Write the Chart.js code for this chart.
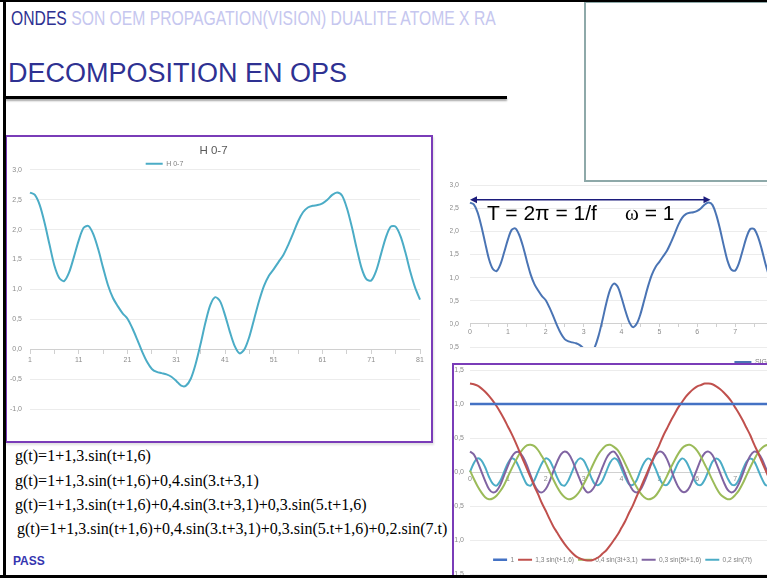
<!DOCTYPE html>
<html>
<head>
<meta charset="utf-8">
<title>DECOMPOSITION EN OPS</title>
<script src="https://cdn.jsdelivr.net/npm/chart.js@4.4.1/dist/chart.umd.min.js"></script>
<style>
  body { margin: 0; background: #fff; }
  #slide { position: relative; width: 767px; height: 578px; overflow: hidden; background: #fff;
           font-family: "Liberation Sans", Arial, sans-serif; }
  #slide div { position: absolute; }
  .frame { box-sizing: border-box; border: 2px solid #7a3cb8; background: #fff; }
  .formula { font-family: "Liberation Serif", "Times New Roman", serif; font-size: 16px; line-height: 16px;
             color: #000; white-space: nowrap; }
  .black { background: #000; }
</style>
</head>
<body>
<div id="slide">

  <div style="left:11px;top:8px;font-size:20px;line-height:20px;white-space:nowrap;color:#c6c7ef;transform:scaleX(0.785);transform-origin:0 0"><span style="color:#2e3192">ONDES</span> SON OEM PROPAGATION(VISION) DUALITE ATOME X RA</div>
  <div style="left:8px;top:60px;font-size:27px;line-height:27px;color:#2e3192;white-space:nowrap">DECOMPOSITION EN OPS</div>
  <div class="black" style="left:5px;top:96px;width:502px;height:3px;box-shadow:0 2px 2px rgba(0,0,0,0.35)"></div>

  <!-- graphique principal -->
  <div class="frame" style="left:5px;top:135px;width:428px;height:308px;box-shadow:1px 2px 2px rgba(0,0,0,0.12)"></div>
  <div style="left:7px;top:137px;width:424px;height:304px"><canvas id="grafico_h07"></canvas></div>

  <!-- signal, en haut a droite -->
  <div style="left:450px;top:176px;width:317px;height:187px;overflow:hidden">
    <div style="left:-10px;top:0;width:640px;height:200px"><canvas id="grafico_signal"></canvas></div>
  </div>
  <div style="left:487px;top:202px;font-size:21px;line-height:21px;white-space:nowrap">T = 2&pi; = 1/f</div>
  <div style="left:625px;top:202px;font-size:21px;line-height:21px;white-space:nowrap"><span style="font-family:'Liberation Serif',serif">&omega;</span> = 1</div>

  <!-- composantes, en bas a droite -->
  <div class="frame" style="left:452px;top:363px;width:340px;height:240px;overflow:hidden">
    <div style="left:0;top:0;width:330px;height:215px"><canvas id="grafico_ops"></canvas></div>
  </div>

  <div style="left:584px;top:1px;width:200px;height:181px;box-sizing:border-box;border:2px solid #8ea9a9"></div>

  <div class="formula" style="left:15px;top:448px">g(t)=1+1,3.sin(t+1,6)</div>
  <div class="formula" style="left:15px;top:473px">g(t)=1+1,3.sin(t+1,6)+0,4.sin(3.t+3,1)</div>
  <div class="formula" style="left:15px;top:497px">g(t)=1+1,3.sin(t+1,6)+0,4.sin(3.t+3,1)+0,3.sin(5.t+1,6)</div>
  <div class="formula" style="left:17px;top:521px">g(t)=1+1,3.sin(t+1,6)+0,4.sin(3.t+3,1)+0,3.sin(5.t+1,6)+0,2.sin(7.t)</div>

  <div style="left:13px;top:555px;font-size:12px;line-height:12px;font-weight:bold;color:#3535b0">PASS</div>

  <div class="black" style="left:0;top:0;width:767px;height:2px"></div>
  <div class="black" style="left:3px;top:0;width:3px;height:578px"></div>
  <div class="black" style="left:0;top:575px;width:767px;height:3px"></div>
</div>

<script>
// valeurs, t = 0 .. 8 par pas de 0,1 (81 points)
const pointNo = Array.from({ length: 81 }, (_, i) => String(i + 1))
const tValues = Array.from({ length: 81 }, (_, i) => (i / 10).toFixed(1))

// somme des harmoniques 0 a 7
const h07 = [
  2.62, 2.58, 2.41, 2.11, 1.75, 1.40, 1.19, 1.14, 1.28, 1.54,
  1.82, 2.03, 2.06, 1.92, 1.67, 1.36, 1.07, 0.86, 0.72, 0.60,
  0.51, 0.35, 0.16, -0.04, -0.21, -0.33, -0.38, -0.40, -0.42, -0.46,
  -0.53, -0.61, -0.61, -0.49, -0.24, 0.09, 0.45, 0.74, 0.87, 0.80,
  0.57, 0.29, 0.05, -0.07, 0.00, 0.21, 0.51, 0.81, 1.06, 1.23,
  1.34, 1.46, 1.58, 1.75, 1.94, 2.14, 2.29, 2.37, 2.40, 2.41,
  2.44, 2.50, 2.58, 2.62, 2.57, 2.36, 2.05, 1.69, 1.36, 1.17,
  1.15, 1.31, 1.59, 1.87, 2.05, 2.05, 1.89, 1.62, 1.30, 1.03,
  0.83]
const signal = h07

const constant1 = [
  1, 1, 1, 1, 1, 1, 1, 1, 1, 1, 1, 1, 1, 1, 1, 1, 1, 1, 1, 1,
  1, 1, 1, 1, 1, 1, 1, 1, 1, 1, 1, 1, 1, 1, 1, 1, 1, 1, 1, 1,
  1, 1, 1, 1, 1, 1, 1, 1, 1, 1, 1, 1, 1, 1, 1, 1, 1, 1, 1, 1,
  1, 1, 1, 1, 1, 1, 1, 1, 1, 1, 1, 1, 1, 1, 1, 1, 1, 1, 1, 1, 1]

const harm1 = [
  1.30, 1.29, 1.27, 1.23, 1.18, 1.12, 1.05, 0.97, 0.88, 0.78,
  0.67, 0.56, 0.44, 0.31, 0.18, 0.05, -0.08, -0.21, -0.33, -0.46,
  -0.57, -0.69, -0.80, -0.89, -0.98, -1.06, -1.13, -1.19, -1.24, -1.27,
  -1.29, -1.30, -1.30, -1.28, -1.25, -1.20, -1.15, -1.08, -1.00, -0.92,
  -0.82, -0.72, -0.60, -0.49, -0.36, -0.24, -0.11, 0.02, 0.15, 0.28,
  0.40, 0.53, 0.64, 0.75, 0.85, 0.95, 1.03, 1.11, 1.17, 1.22,
  1.26, 1.28, 1.30, 1.30, 1.29, 1.26, 1.22, 1.17, 1.11, 1.04,
  0.95, 0.86, 0.76, 0.65, 0.54, 0.41, 0.29, 0.16, 0.03, -0.10,
  -0.23]

const harm3 = [
  0.02, -0.10, -0.21, -0.30, -0.37, -0.40, -0.39, -0.35, -0.28, -0.19,
  -0.07, 0.05, 0.16, 0.26, 0.34, 0.39, 0.40, 0.38, 0.32, 0.23,
  0.13, 0.01, -0.11, -0.22, -0.31, -0.37, -0.40, -0.39, -0.35, -0.28,
  -0.18, -0.07, 0.05, 0.17, 0.27, 0.34, 0.39, 0.40, 0.37, 0.32,
  0.23, 0.12, 0.00, -0.12, -0.22, -0.31, -0.37, -0.40, -0.39, -0.35,
  -0.27, -0.17, -0.06, 0.06, 0.17, 0.27, 0.35, 0.39, 0.40, 0.37,
  0.31, 0.22, 0.11, 0.00, -0.12, -0.23, -0.32, -0.37, -0.40, -0.39,
  -0.34, -0.27, -0.17, -0.05, 0.07, 0.18, 0.28, 0.35, 0.39, 0.40,
  0.37]

const harm5 = [
  0.30, 0.26, 0.15, 0.01, -0.13, -0.25, -0.30, -0.28, -0.19, -0.05,
  0.09, 0.22, 0.29, 0.29, 0.22, 0.10, -0.05, -0.19, -0.28, -0.30,
  -0.25, -0.14, 0.01, 0.15, 0.26, 0.30, 0.27, 0.17, 0.03, -0.11,
  -0.23, -0.30, -0.28, -0.20, -0.07, 0.07, 0.20, 0.28, 0.30, 0.23,
  0.11, -0.03, -0.17, -0.27, -0.30, -0.26, -0.15, -0.01, 0.14, 0.25,
  0.30, 0.28, 0.19, 0.05, -0.10, -0.22, -0.29, -0.29, -0.22, -0.09,
  0.05, 0.19, 0.28, 0.30, 0.25, 0.13, -0.01, -0.15, -0.26, -0.30,
  -0.27, -0.17, -0.03, 0.12, 0.24, 0.30, 0.28, 0.20, 0.07, -0.08,
  -0.21]

const harm7 = [
  0.00, 0.13, 0.20, 0.17, 0.07, -0.07, -0.17, -0.20, -0.13, 0.00,
  0.13, 0.20, 0.17, 0.06, -0.07, -0.18, -0.20, -0.12, 0.01, 0.13,
  0.20, 0.17, 0.06, -0.08, -0.18, -0.20, -0.12, 0.01, 0.14, 0.20,
  0.17, 0.06, -0.08, -0.18, -0.19, -0.12, 0.01, 0.14, 0.20, 0.17,
  0.05, -0.08, -0.18, -0.19, -0.12, 0.02, 0.14, 0.20, 0.16, 0.05,
  -0.09, -0.18, -0.19, -0.11, 0.02, 0.14, 0.20, 0.16, 0.05, -0.09,
  -0.18, -0.19, -0.11, 0.02, 0.15, 0.20, 0.16, 0.04, -0.09, -0.18,
  -0.19, -0.11, 0.03, 0.15, 0.20, 0.16, 0.04, -0.09, -0.19, -0.19,
  -0.10]

const opsLabels = ['1', '1,3 sin(t+1,6)', '0,4 sin(3t+3,1)', '0,3 sin(5t+1,6)', '0,2 sin(7t)']
const opsColors = ['#4472c4', '#c0504d', '#9bbb59', '#8064a2', '#4bacc6']


Chart.defaults.font.family = '"Liberation Sans", Arial, sans-serif'
Chart.defaults.color = '#8c8c8c'
Chart.defaults.animation = false

// deplace la legende (facon Excel) sans lui laisser prendre de place
const legendNudge = {
  id: 'legendNudge',
  afterInit(chart, args, opts) {
    const legend = chart.legend
    const fit = legend.fit
    legend.fit = function () {
      fit.call(this)
      this.height = opts.height
    }
  },
  afterLayout(chart, args, opts) {
    const legend = chart.legend
    legend.left += opts.dx
    legend.right += opts.dx
    legend.top += opts.dy
    legend.height = 30
    legend.bottom = legend.top + 30
  }
}

// fleche de periode T = 2 pi
const periodArrow = {
  id: 'periodArrow',
  afterDatasetsDraw(chart, args, opts) {
    if (!opts.show) return
    const { ctx, scales } = chart
    const x0 = scales.x.getPixelForValue(opts.from)
    const x1 = scales.x.getPixelForValue(opts.to)
    const y = scales.y.getPixelForValue(opts.at)
    ctx.save()
    ctx.strokeStyle = '#1c1c7c'
    ctx.fillStyle = '#1c1c7c'
    ctx.lineWidth = 1.5
    ctx.beginPath()
    ctx.moveTo(x0 + 4, y)
    ctx.lineTo(x1 - 4, y)
    ctx.stroke()
    ctx.beginPath()
    ctx.moveTo(x0, y); ctx.lineTo(x0 + 7, y - 3.5); ctx.lineTo(x0 + 7, y + 3.5); ctx.closePath()
    ctx.moveTo(x1, y); ctx.lineTo(x1 - 7, y - 3.5); ctx.lineTo(x1 - 7, y + 3.5); ctx.closePath()
    ctx.fill()
    ctx.restore()
  }
}

function yAxis(min, max, width, pad) {
  return {
    min, max,
    ticks: { stepSize: 0.5, padding: pad, font: { size: 7 },
             callback: v => v.toFixed(1).replace('.', ',') },
    grid: { color: '#ececec', drawTicks: false },
    border: { display: false },
    afterFit: s => { s.width = width; s.paddingTop = 0; s.paddingBottom = 0 }
  }
}

function xAxis(tickLen, pad, labelOf) {
  return {
    position: { y: 0 },
    grid: { drawOnChartArea: false, tickLength: tickLen,
            tickColor: c => c.index % 5 === 0 ? '#d0d0d0' : 'rgba(0,0,0,0)' },
    border: { color: '#d0d0d0' },
    ticks: { autoSkip: false, maxRotation: 0, padding: pad, font: { size: 7 },
             callback: (v, i) => i % 10 === 0 ? labelOf(i) : '' },
    afterFit: s => { s.paddingLeft = 0; s.paddingRight = 0 }
  }
}

function legendOpts(pos, width, pad, size) {
  return {
    position: pos,
    labels: { usePointStyle: true, pointStyle: 'line', pointStyleWidth: width,
              color: '#7f7f7f', font: { size: size }, padding: pad }
  }
}

new Chart(document.getElementById('grafico_h07'), {
  type: 'line',
  data: {
    labels: pointNo,
    datasets: [{ label: 'H 0-7', data: h07, borderColor: '#4bacc6', borderWidth: 2,
                 pointRadius: 0, tension: 0.3 }]
  },
  options: {
    responsive: true, maintainAspectRatio: false,
    layout: { padding: { left: 0, right: 11, top: 0, bottom: 32 } },
    plugins: {
      title: { display: true, text: 'H 0-7', color: '#595959',
               font: { size: 11.5, weight: 'normal' }, padding: { top: 7, bottom: 0 } },
      legend: legendOpts('top', 17, 2.5, 7),
      legendNudge: { height: 12, dx: -49, dy: 0 },
      tooltip: { enabled: false }
    },
    scales: {
      x: xAxis(4, 3, i => pointNo[i]),
      y: yAxis(-1, 3, 23, 8)
    }
  },
  plugins: [legendNudge]
})

new Chart(document.getElementById('grafico_signal'), {
  type: 'line',
  data: {
    labels: tValues,
    datasets: [{ label: 'SIGNAL', data: signal, borderColor: '#4a74b4', borderWidth: 2,
                 pointRadius: 0, tension: 0.3 }]
  },
  options: {
    responsive: true, maintainAspectRatio: false,
    layout: { padding: { left: 0, right: 307, top: 9, bottom: 29 } },
    plugins: {
      legend: legendOpts('bottom', 17, 0, 7),
      legendNudge: { height: 0, dx: 151, dy: 11.5 },
      periodArrow: { show: true, from: 0, to: 63.5, at: 2.68 },
      tooltip: { enabled: false }
    },
    scales: {
      x: xAxis(3, 1.5, i => String(i / 10)),
      y: yAxis(-0.5, 3, 30, 11)
    }
  },
  plugins: [legendNudge, periodArrow]
})

const opsSeries = [constant1, harm1, harm3, harm5, harm7]

new Chart(document.getElementById('grafico_ops'), {
  type: 'line',
  data: {
    labels: tValues,
    datasets: opsSeries.map((d, k) => ({
      label: opsLabels[k], data: d, borderColor: opsColors[k],
      borderWidth: k === 0 ? 2.5 : 2, pointRadius: 0, tension: 0.3
    }))
  },
  options: {
    responsive: true, maintainAspectRatio: false,
    layout: { padding: { left: 0, right: 11, top: 5, bottom: 6 } },
    plugins: {
      legend: legendOpts('bottom', 14, 4, 6.6),
      legendNudge: { height: 0, dx: 9, dy: -21.5 },
      tooltip: { enabled: false }
    },
    scales: {
      x: xAxis(0, 3, i => String(i / 10)),
      y: yAxis(-1.5, 1.5, 16, 6)
    }
  },
  plugins: [legendNudge]
})
</script>
</body>
</html>
